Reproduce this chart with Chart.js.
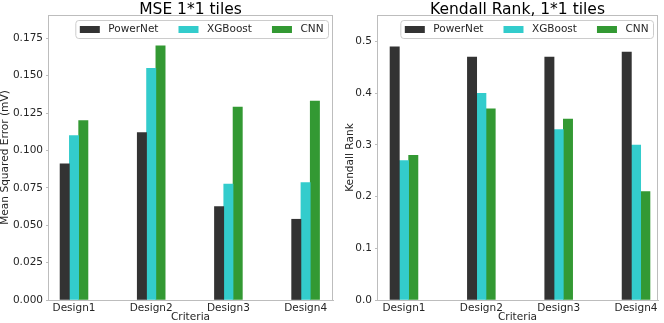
<!DOCTYPE html>
<html>
<head>
<meta charset="utf-8">
<script src="https://cdn.jsdelivr.net/npm/chart.js@4.4.0/dist/chart.umd.min.js"></script>
<style>
  html, body { margin: 0; padding: 0; background: #fff; }
  #wrap { position: relative; width: 664px; height: 323px; overflow: hidden; }
  canvas { position: absolute; top: 0; }
  #mse { left: 0; }
  #kendall { left: 332px; }
</style>
</head>
<body>
<div id="wrap">
  <canvas id="mse" width="336" height="323"></canvas>
  <canvas id="kendall" width="332" height="323"></canvas>
</div>
<script>
const categories = ["Design1", "Design2", "Design3", "Design4"];
const models = ["PowerNet", "XGBoost", "CNN"];

const msePowerNet = [0.091, 0.112, 0.0625, 0.054];
const mseXGBoost = [0.110, 0.155, 0.0775, 0.0785];
const mseCNN = [0.120, 0.170, 0.129, 0.133];

const kendallPowerNet = [0.49, 0.47, 0.47, 0.48];
const kendallXGBoost = [0.27, 0.40, 0.33, 0.30];
const kendallCNN = [0.28, 0.37, 0.35, 0.21];

const mseTicks = [0, 0.025, 0.05, 0.075, 0.1, 0.125, 0.15, 0.175];
const kendallTicks = [0, 0.1, 0.2, 0.3, 0.4, 0.5];

const FONT = '"DejaVu Sans", sans-serif';
const SPINE = "#bdbdbd";
const TEXT = "#262626";
const colors = ["#333333", "#33cccc", "#339933"];

// title, top/right spines and the legend inside the plot
const panelDecor = {
  id: "panelDecor",
  afterDraw(chart, args, opts) {
    const { ctx, chartArea: a } = chart;
    ctx.save();
    ctx.strokeStyle = SPINE;
    ctx.lineWidth = 1;
    ctx.beginPath();
    ctx.moveTo(a.left, Math.round(a.top) + 0.5);
    ctx.lineTo(a.right, Math.round(a.top) + 0.5);
    ctx.moveTo(Math.round(a.right) - 0.5, a.top);
    ctx.lineTo(Math.round(a.right) - 0.5, a.bottom);
    ctx.stroke();

    ctx.fillStyle = "#000";
    ctx.font = "15.5px " + FONT;
    ctx.textAlign = "center";
    ctx.textBaseline = "alphabetic";
    ctx.fillText(opts.title, (a.left + a.right) / 2, 14);

    ctx.font = "10.5px " + FONT;
    const items = chart.data.datasets.map((d) => ({
      label: d.label,
      color: d.backgroundColor,
      w: 20 + 8.5 + ctx.measureText(d.label).width,
    }));
    const inner = items.reduce((s, it) => s + it.w, 0) + 20 * (items.length - 1);
    const boxW = inner + 9;
    const boxH = 18;
    const x0 = a.right - 5 - boxW;
    const y0 = a.top + 5;
    ctx.beginPath();
    ctx.roundRect(x0 + 0.5, y0 + 0.5, boxW, boxH, 3);
    ctx.fillStyle = "rgba(255,255,255,0.8)";
    ctx.fill();
    ctx.strokeStyle = "#cccccc";
    ctx.stroke();

    let x = x0 + 4.5;
    const cy = y0 + boxH / 2 + 0.5;
    ctx.textAlign = "left";
    ctx.textBaseline = "middle";
    items.forEach((it) => {
      ctx.fillStyle = it.color;
      ctx.fillRect(x, cy - 3.5, 20, 7);
      ctx.fillStyle = TEXT;
      ctx.fillText(it.label, x + 28.5, cy);
      x += it.w + 20;
    });
    ctx.restore();
  },
};

function makeChart(id, series, cfg) {
  const ctx = document.getElementById(id).getContext("2d");
  return new Chart(ctx, {
    type: "bar",
    data: {
      datasets: series.map((vals, k) => ({
        label: models[k],
        data: vals.map((v, i) => ({ x: i, y: v })),
        backgroundColor: colors[k],
        borderWidth: 0,
        barThickness: 9.3,
      })),
    },
    options: {
      responsive: false,
      animation: false,
      devicePixelRatio: 1,
      layout: { padding: { top: 15, right: cfg.padRight, left: 0, bottom: 0 } },
      plugins: {
        legend: { display: false },
        title: { display: false },
        tooltip: { enabled: false },
        panelDecor: { title: cfg.title },
      },
      scales: {
        x: {
          type: "linear",
          min: cfg.xMin,
          max: cfg.xMax,
          offset: false,
          grid: { display: false, drawTicks: false, offset: false },
          border: { display: true, color: SPINE, width: 1 },
          afterBuildTicks: (axis) => {
            axis.ticks = categories.map((c, i) => ({ value: i }));
          },
          afterFit: (axis) => { axis.height = 23; },
          ticks: {
            color: TEXT,
            font: { family: FONT, size: 10.5 },
            padding: 2,
            maxRotation: 0,
            autoSkip: false,
            callback: (v) => categories[v],
          },
          title: {
            display: true,
            text: "Criteria",
            color: TEXT,
            font: { family: FONT, size: 10.6, lineHeight: 1 },
            padding: 0,
          },
        },
        y: {
          min: 0,
          max: cfg.yMax,
          grid: { display: true, drawOnChartArea: false, drawTicks: true, tickLength: 2, color: SPINE },
          border: { display: true, color: SPINE, width: 1 },
          afterBuildTicks: (axis) => {
            axis.ticks = cfg.yTicks.map((v) => ({ value: v }));
          },
          afterFit: (axis) => { axis.width = cfg.yWidth; },
          ticks: {
            color: TEXT,
            font: { family: FONT, size: 10.5 },
            padding: 3,
            callback: (v) => Number(v).toFixed(cfg.digits),
          },
          title: {
            display: true,
            text: cfg.yTitle,
            color: TEXT,
            font: { family: FONT, size: 10.6, lineHeight: 1 },
            padding: { top: cfg.yTitlePad, bottom: 0 },
          },
        },
      },
    },
    plugins: [panelDecor],
  });
}

makeChart("mse", [msePowerNet, mseXGBoost, mseCNN], {
  title: "MSE 1*1 tiles",
  yTitle: "Mean Squared Error (mV)",
  yMax: 0.1906,
  yTicks: mseTicks,
  digits: 3,
  xMin: -0.337,
  xMax: 3.355,
  yWidth: 48,
  yTitlePad: 0,
  padRight: 3,
});

makeChart("kendall", [kendallPowerNet, kendallXGBoost, kendallCNN], {
  title: "Kendall Rank, 1*1 tiles",
  yTitle: "Kendall Rank",
  yMax: 0.5516,
  yTicks: kendallTicks,
  digits: 1,
  xMin: -0.349,
  xMax: 3.284,
  yWidth: 45,
  yTitlePad: 12.5,
  padRight: 6,
});
</script>
</body>
</html>
